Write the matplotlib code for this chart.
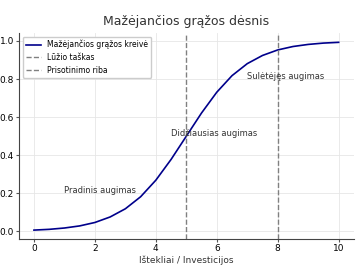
import matplotlib
matplotlib.use("Agg")
import matplotlib.pyplot as plt

# values at half-unit steps
x_vals = [0, 0.5, 1, 1.5, 2, 2.5, 3, 3.5, 4, 4.5, 5,
          5.5, 6, 6.5, 7, 7.5, 8, 8.5, 9, 9.5, 10]
y_vals = [0.007, 0.011, 0.018, 0.029, 0.047, 0.076, 0.119, 0.182, 0.269, 0.378, 0.5,
          0.622, 0.731, 0.818, 0.881, 0.924, 0.953, 0.971, 0.982, 0.989, 0.993]

turn_point = 5
saturation = 8

notes = ["Pradinis augimas", "Didžiausias augimas", "Sulėtėjęs augimas"]
note_x = [1, 4.5, 7]
note_y = [0.2, 0.5, 0.8]

fig, ax = plt.subplots(figsize=(3.6, 2.7), dpi=100)
ax.plot(x_vals, y_vals, color="darkblue", lw=1.2, label="Mažėjančios grąžos kreivė")
ax.axvline(turn_point, color="gray", ls="--", lw=1, label="Lūžio taškas")
ax.axvline(saturation, color="gray", ls="--", lw=1, label="Prisotinimo riba")

for t, tx, ty in zip(notes, note_x, note_y):
    ax.text(tx, ty, t, fontsize=6, color="#333333")

ax.set_xticks([0, 2, 4, 6, 8, 10])
ax.set_yticks([0, 0.2, 0.4, 0.6, 0.8, 1.0])
ax.tick_params(labelsize=6.5, length=2.5, pad=1, color="#555555")
ax.grid(True, color="#e6e6e6", lw=0.6)
for s in ["top", "right"]:
    ax.spines[s].set_visible(False)
for s in ["left", "bottom"]:
    ax.spines[s].set_color("#444444")

ax.set_title("Mažėjančios grąžos dėsnis", fontsize=9, color="#333333")
ax.set_xlabel("Ištekliai / Investicijos", fontsize=6.5, color="#333333", labelpad=1.5)
ax.legend(fontsize=5.5, loc="upper left", framealpha=1)

fig.subplots_adjust(left=0.052, right=0.983, top=0.878, bottom=0.113)
plt.savefig("out.png")
plt.close(fig)
